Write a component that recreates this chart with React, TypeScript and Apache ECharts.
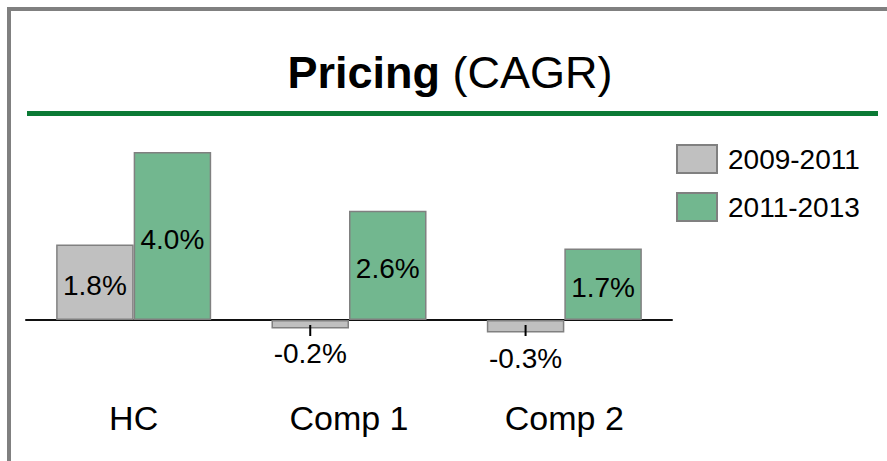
import React, { useEffect, useRef } from "react";
import * as echarts from "echarts";

const categories = ["HC", "Comp 1", "Comp 2"];
const seriesNames = ["2009-2011", "2011-2013"];
const values2009_2011 = [1.8, -0.2, -0.3];
const values2011_2013 = [4.0, 2.6, 1.7];

const FONT = "'Liberation Sans', Arial, sans-serif";

export default function App() {
  const ref = useRef<HTMLDivElement>(null);
  useEffect(() => {
    if (!ref.current) return;
    const chart = echarts.init(ref.current, null, { renderer: "svg" });
    const fmt = (v: number) => v.toFixed(1) + "%";
    chart.setOption({
      animation: false,
      textStyle: { fontFamily: FONT },
      grid: {
        left: 26,
        right: 215,
        top: 110,
        bottom: 99,
        containLabel: false,
        outerBoundsMode: "none",
      },
      legend: {
        data: seriesNames,
        orient: "vertical",
        left: 671,
        top: 139,
        icon: "rect",
        itemWidth: 40,
        itemHeight: 28,
        itemGap: 18,
        textStyle: { fontSize: 28, color: "#000", fontFamily: FONT, padding: [0, 0, 0, 6] },
      },
      xAxis: {
        type: "category",
        data: categories,
        axisLine: { onZero: true, lineStyle: { color: "#111", width: 2 } },
        axisTick: { show: false },
        axisLabel: { fontSize: 34, color: "#000", margin: 39, fontFamily: FONT },
      },
      yAxis: {
        type: "value",
        min: -1,
        max: 5,
        show: false,
        splitLine: { show: false },
      },
      graphic: [
        {
          type: "rect",
          shape: { x: 9, y: 9, width: 895, height: 520 },
          style: { fill: "none", stroke: "#808080", lineWidth: 4 },
          silent: true,
        },
        {
          type: "rect",
          shape: { x: 27, y: 111, width: 851, height: 5 },
          style: { fill: "#0b7a35" },
          silent: true,
        },
        {
          type: "text",
          x: 450,
          y: 72,
          style: {
            text: "{b|Pricing}{r| (CAGR)}",
            align: "center",
            verticalAlign: "middle",
            rich: {
              b: { fontSize: 45, fontWeight: "bold", fill: "#000", fontFamily: FONT },
              r: { fontSize: 45, fill: "#000", fontFamily: FONT },
            },
          },
        },
      ],
      series: [
        {
          name: seriesNames[0],
          type: "bar",
          data: values2009_2011.map((v) => ({
            value: v,
            label:
              v < 0
                ? {
                    position: "insideTop",
                    distance: 5,
                    offset: [0, 0],
                    formatter: "{t|}\n{v|" + fmt(v) + "}",
                    rich: {
                      t: { width: 2, height: 11, backgroundColor: "#000", align: "center" },
                      v: {
                        fontSize: 28,
                        color: "#000",
                        fontFamily: FONT,
                        lineHeight: v < -0.25 ? 44 : 34,
                        align: "center",
                      },
                    },
                  }
                : { position: "inside", offset: [0, 3] },
          })),
          barWidth: "36%",
          barGap: "0%",
          itemStyle: { color: "#c0c0c0", borderColor: "#808080", borderWidth: 1.5 },
          label: {
            show: true,
            formatter: (p: any) => fmt(p.value),
            fontSize: 28,
            color: "#000",
            fontFamily: FONT,
          },
        },
        {
          name: seriesNames[1],
          type: "bar",
          data: values2011_2013,
          barWidth: "36%",
          barGap: "0%",
          itemStyle: { color: "#72b78f", borderColor: "#808080", borderWidth: 1.5 },
          label: {
            show: true,
            position: "inside",
            offset: [0, 3],
            formatter: (p: any) => fmt(p.value),
            fontSize: 28,
            color: "#000",
            fontFamily: FONT,
          },
        },
      ],
    });
    return () => chart.dispose();
  }, []);
  return (
    <div
      ref={ref}
      style={{ position: "fixed", left: 0, top: 0, width: 887, height: 461, background: "#fff" }}
    />
  );
}
